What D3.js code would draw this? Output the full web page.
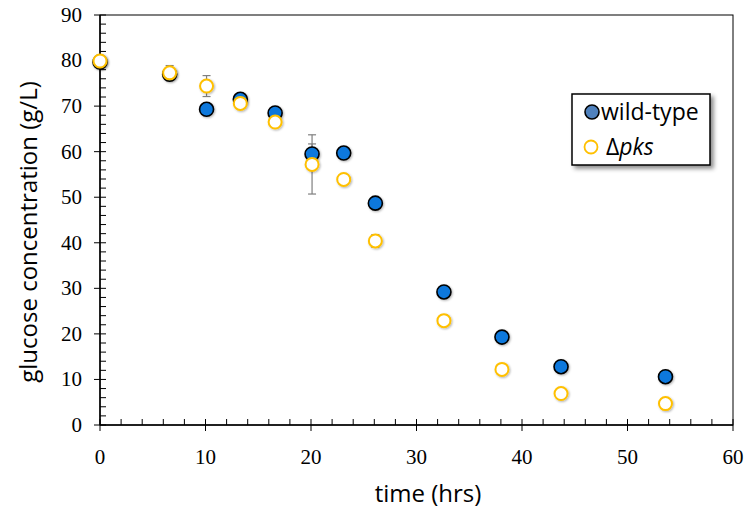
<!DOCTYPE html>
<html lang="en">
<head>
    <meta charset="UTF-8">
    <title>Glucose consumption</title>
    <script src="https://d3js.org/d3.v7.min.js"></script>
    <style>
        body { margin: 0; background: #fff; }
        svg { display: block; }
        .tick-label { font-family: "Liberation Serif", "Times New Roman", serif; font-size: 21px; fill: #000; }
        .axis-title { font-family: "Open Sans", "Liberation Sans", sans-serif; font-size: 24px; fill: #000; }
        .legend-text { font-family: "Open Sans", "Liberation Sans", sans-serif; font-size: 23px; fill: #000; }
    </style>
</head>
<body>
<svg width="752" height="512"></svg>
<script>
    // time points (hrs)
    const times = [0, 6.6, 10.1, 13.3, 16.6, 20.1, 23.1, 26.1, 32.6, 38.1, 43.7, 53.6];
    // glucose (g/L)
    const wildType = [79.7, 77.0, 69.3, 71.5, 68.5, 59.5, 59.7, 48.7, 29.2, 19.3, 12.8, 10.6];
    const wildTypeErr = [0, 0, 0, 0, 0, 2.2, 0, 0, 0, 0, 0, 0];
    const pks = [79.9, 77.3, 74.4, 70.6, 66.5, 57.2, 53.9, 40.4, 22.9, 12.2, 6.9, 4.7];
    const pksErr = [0, 1.6, 2.3, 0, 0, 6.5, 0, 1.4, 1.2, 0, 0, 0];
    const xTicks = [0, 10, 20, 30, 40, 50, 60];
    const yTicks = [0, 10, 20, 30, 40, 50, 60, 70, 80, 90];

    const svg = d3.select("svg");
    const plotL = 100, plotR = 733, plotT = 15, plotB = 425;

    const x = d3.scaleLinear().domain([0, 60]).range([plotL, plotR]);
    const y = d3.scaleLinear().domain([0, 90]).range([plotB, plotT]);

    // shadow filters
    const defs = svg.append("defs");
    const sh = defs.append("filter").attr("id", "shadow").attr("x", "-20%").attr("y", "-20%").attr("width", "150%").attr("height", "150%");
    sh.append("feDropShadow").attr("dx", 3).attr("dy", 3).attr("stdDeviation", 2).attr("flood-color", "#000").attr("flood-opacity", 0.45);
    const msh = defs.append("filter").attr("id", "mshadow").attr("x", "-50%").attr("y", "-50%").attr("width", "200%").attr("height", "200%");
    msh.append("feDropShadow").attr("dx", 1).attr("dy", 1).attr("stdDeviation", 0.8).attr("flood-color", "#000").attr("flood-opacity", 0.3);

    // frame
    svg.append("rect")
        .attr("x", plotL).attr("y", plotT)
        .attr("width", plotR - plotL).attr("height", plotB - plotT)
        .attr("fill", "none").attr("stroke", "#000").attr("stroke-width", 1);

    // y axis
    const yAxis = svg.append("g");
    yAxis.append("line").attr("x1", plotL).attr("x2", plotL).attr("y1", plotT).attr("y2", plotB)
        .attr("stroke", "#000").attr("stroke-width", 1.5);
    d3.range(0, 91, 2).forEach(v => {
        const major = v % 10 === 0;
        yAxis.append("line")
            .attr("x1", major ? plotL - 6 : plotL).attr("x2", plotL + 6)
            .attr("y1", y(v)).attr("y2", y(v))
            .attr("stroke", "#000").attr("stroke-width", 1);
    });
    yAxis.selectAll("text.tick-label").data(yTicks).enter().append("text")
        .attr("class", "tick-label")
        .attr("x", plotL - 18).attr("y", d => y(d))
        .attr("dy", "0.33em").attr("text-anchor", "end")
        .text(d => d);

    // x axis
    const xAxis = svg.append("g");
    xAxis.append("line").attr("x1", plotL).attr("x2", plotR).attr("y1", plotB).attr("y2", plotB)
        .attr("stroke", "#000").attr("stroke-width", 1.5);
    d3.range(0, 61, 2).forEach(v => {
        const major = v % 10 === 0;
        xAxis.append("line")
            .attr("x1", x(v)).attr("x2", x(v))
            .attr("y1", plotB - 6).attr("y2", major ? plotB + 6 : plotB)
            .attr("stroke", "#000").attr("stroke-width", 1);
    });
    xAxis.selectAll("text.tick-label").data(xTicks).enter().append("text")
        .attr("class", "tick-label")
        .attr("x", d => x(d)).attr("y", 464)
        .attr("text-anchor", "middle")
        .text(d => d);

    // axis titles
    svg.append("text").attr("class", "axis-title")
        .attr("x", 428).attr("y", 502).attr("text-anchor", "middle")
        .attr("font-size", 25)
        .text("time (hrs)");
    svg.append("text").attr("class", "axis-title")
        .attr("transform", `translate(37,232) rotate(-90)`)
        .attr("text-anchor", "middle")
        .text("glucose concentration (g/L)");

    const wtData = times.map((t, i) => ({ t, v: wildType[i], e: wildTypeErr[i] }));
    const pkData = times.map((t, i) => ({ t, v: pks[i], e: pksErr[i] }));

    // error bars
    function errorBars(data) {
        const g = svg.append("g").attr("stroke", "#7f7f7f").attr("stroke-width", 1.2);
        data.filter(d => d.e > 0).forEach(d => {
            const cx = x(d.t);
            g.append("line").attr("x1", cx).attr("x2", cx).attr("y1", y(d.v - d.e)).attr("y2", y(d.v + d.e));
            [d.v - d.e, d.v + d.e].forEach(v => {
                g.append("line").attr("x1", cx - 4).attr("x2", cx + 4).attr("y1", y(v)).attr("y2", y(v));
            });
        });
    }
    errorBars(wtData);
    errorBars(pkData);

    // markers
    svg.append("g").selectAll("circle").data(wtData).enter().append("circle")
        .attr("cx", d => x(d.t)).attr("cy", d => y(d.v)).attr("r", 7)
        .attr("fill", "#0a78dc").attr("stroke", "#000").attr("stroke-width", 1.6)
        .attr("filter", "url(#mshadow)");
    svg.append("g").selectAll("circle").data(pkData).enter().append("circle")
        .attr("cx", d => x(d.t)).attr("cy", d => y(d.v)).attr("r", 6.5)
        .attr("fill", "#fff").attr("stroke", "#ffc000").attr("stroke-width", 2)
        .attr("filter", "url(#mshadow)");

    // legend
    const lg = svg.append("g");
    lg.append("rect").attr("x", 572).attr("y", 94).attr("width", 138).attr("height", 71)
        .attr("fill", "#fff").attr("stroke", "#000").attr("stroke-width", 1.5)
        .attr("filter", "url(#shadow)");
    lg.append("circle").attr("cx", 592).attr("cy", 112).attr("r", 7)
        .attr("fill", "#4f81bd").attr("stroke", "#000").attr("stroke-width", 1.6);
    lg.append("text").attr("class", "legend-text").attr("x", 601).attr("y", 112).attr("dy", "0.35em")
        .text("wild-type");
    lg.append("circle").attr("cx", 591).attr("cy", 147).attr("r", 6.5)
        .attr("fill", "#fff").attr("stroke", "#ffc000").attr("stroke-width", 1.8);
    const t2 = lg.append("text").attr("class", "legend-text").attr("x", 606).attr("y", 147).attr("dy", "0.35em");
    t2.append("tspan").text("Δ");
    t2.append("tspan").attr("font-style", "italic").text("pks");
</script>
</body>
</html>
